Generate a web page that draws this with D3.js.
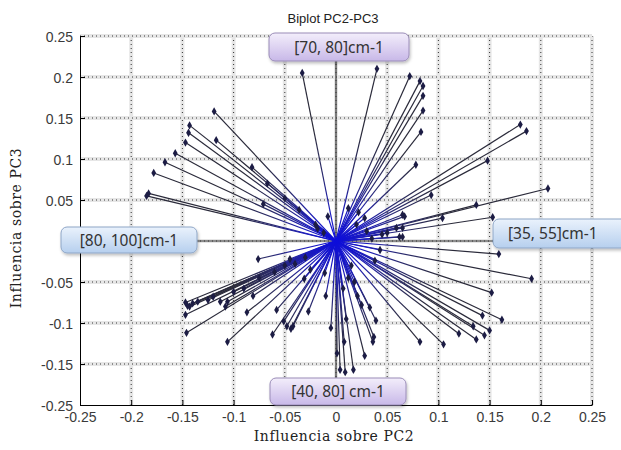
<!DOCTYPE html>
<html>
<head>
<meta charset="utf-8">
<script src="https://cdn.jsdelivr.net/npm/d3@7"></script>
<style>
    body { margin: 0; background: #fff; }
    svg { display: block; }
</style>
</head>
<body>
<svg id="chart" width="621" height="450"></svg>
<script>
'use strict';

// loadings on PC2 (x) and PC3 (y)
var pc2 = [
    -0.033, -0.119, -0.143, -0.144, -0.117, -0.147, -0.157, -0.167, -0.178, -0.183, -0.185,
    -0.082, -0.067, -0.050, -0.071, -0.036, -0.020, -0.012,
    0.040, 0.072, 0.082, 0.085, 0.085, 0.085, 0.083, 0.078, 0.180, 0.186, 0.148, 0.093,
    0.207, 0.137, 0.153, 0.104, 0.065, 0.067, 0.065, 0.062, 0.065, 0.059, 0.030, 0.045, 0.020, 0.035,
    -0.076, -0.147, -0.145, -0.143, -0.147, -0.146, -0.113, -0.106, -0.108, -0.081, -0.087, -0.106,
    -0.058, -0.062, -0.051, -0.048, -0.044, -0.042, -0.027, -0.010, -0.005, -0.031, -0.011,
    -0.140, -0.135, -0.125, -0.120, -0.100, -0.090, -0.075, -0.060, -0.050,
    0.159, 0.043, 0.191, 0.152, 0.143, 0.162, 0.134, 0.150, 0.145, 0.137, 0.120, 0.105, 0.082,
    0.039, 0.037, 0.036, 0.033, 0.028, 0.008, 0.017, 0.009, 0.004, 0.001, 0.025, 0.021, 0.038,
    0.007, 0.015, 0.012,
    -0.030, -0.025, -0.040, 0.028, 0.022, 0.012, -0.008, 0.018, -0.018, 0.050, -0.045, 0.010
];
var pc3 = [
    0.205, 0.158, 0.141, 0.132, 0.123, 0.120, 0.107, 0.096, 0.083, 0.058, 0.055,
    0.090, 0.070, 0.052, 0.045, 0.038, 0.020, 0.010,
    0.210, 0.201, 0.195, 0.189, 0.177, 0.159, 0.133, 0.093, 0.142, 0.134, 0.098, 0.056,
    0.064, 0.044, 0.029, 0.028, 0.032, 0.030, 0.016, 0.005, 0.005, 0.016, 0.012, 0.008, 0.020, 0.003,
    -0.022, -0.075, -0.079, -0.080, -0.090, -0.112, -0.074, -0.074, -0.080, -0.067, -0.087, -0.123,
    -0.084, -0.114, -0.098, -0.104, -0.107, -0.104, -0.086, -0.067, -0.106, -0.046, -0.039,
    -0.076, -0.074, -0.072, -0.068, -0.062, -0.058, -0.045, -0.038, -0.030,
    -0.016, -0.011, -0.046, -0.063, -0.091, -0.096, -0.104, -0.109, -0.115, -0.120, -0.113, -0.126, -0.123,
    -0.097, -0.117, -0.123, -0.081, -0.140, -0.123, -0.157, -0.160, -0.157, -0.137, -0.078, -0.067, -0.024,
    -0.058, -0.030, -0.045,
    -0.020, -0.035, -0.028, 0.028, 0.035, 0.040, 0.030, -0.050, 0.015, 0.010, -0.022, -0.095
];

var xTicks = [-0.25, -0.2, -0.15, -0.1, -0.05, 0, 0.05, 0.1, 0.15, 0.2, 0.25];
var xTickLabels = ['-0.25', '-0.2', '-0.15', '-0.1', '-0.05', '0', '0.05', '0.1', '0.15', '0.2', '0.25'];
var yTicks = [-0.2, -0.15, -0.1, -0.05, 0, 0.05, 0.1, 0.15, 0.2, 0.25];
var yTickLabels = ['-0.25', '-0.15', '-0.1', '-0.05', '', '0.05', '0.1', '0.15', '0.2', '0.25'];

// band labels placed at the ends of the axis lines
var bandNames = ['[70, 80]cm-1', '[35, 55]cm-1', '[40, 80] cm-1', '[80, 100]cm-1'];

var svg = d3.select('#chart');
var padL = 80, padR = 592, padT = 36, padB = 405;

var x = d3.scaleLinear().domain([-0.25, 0.25]).range([padL, padR]);
var y = d3.scaleLinear().domain([-0.2, 0.25]).range([padB, padT]);

var defs = svg.append('defs');

// lines look blue where they crowd around the origin
var rg = defs.append('radialGradient')
    .attr('id', 'vecGrad')
    .attr('gradientUnits', 'userSpaceOnUse')
    .attr('cx', x(0)).attr('cy', y(0)).attr('r', 110);
rg.append('stop').attr('offset', 0).attr('stop-color', '#0c0cdc');
rg.append('stop').attr('offset', 0.3).attr('stop-color', '#1c1cb8');
rg.append('stop').attr('offset', 0.6).attr('stop-color', '#2a2a70');
rg.append('stop').attr('offset', 1).attr('stop-color', '#2a2a3a');

function addLinear(id, c0, c1) {
    var g = defs.append('linearGradient').attr('id', id)
        .attr('x1', 0).attr('y1', 0).attr('x2', 0).attr('y2', 1);
    g.append('stop').attr('offset', 0).attr('stop-color', c0);
    g.append('stop').attr('offset', 1).attr('stop-color', c1);
}
addLinear('purpleGrad', '#f3eefb', '#c8b8e8');
addLinear('blueGrad', '#eaf2fc', '#b6cfee');

var shadow = defs.append('filter').attr('id', 'shadow')
    .attr('x', '-10%').attr('y', '-20%').attr('width', '130%').attr('height', '160%');
shadow.append('feDropShadow')
    .attr('dx', 1).attr('dy', 2).attr('stdDeviation', 1.5)
    .attr('flood-color', '#000').attr('flood-opacity', 0.25);

// grid
var grid = svg.append('g');
xTicks.forEach(function(t) {
    if(t === -0.25) return;
    grid.append('line')
        .attr('x1', x(t)).attr('x2', x(t)).attr('y1', padT).attr('y2', padB)
        .attr('stroke', '#e6e6e6').attr('stroke-width', 4);
    grid.append('line')
        .attr('x1', x(t)).attr('x2', x(t)).attr('y1', padT).attr('y2', padB)
        .attr('stroke', '#333').attr('stroke-width', 1).attr('stroke-dasharray', '1,3');
});
yTicks.forEach(function(t) {
    if(t === -0.2) return;
    grid.append('line')
        .attr('x1', padL).attr('x2', padR).attr('y1', y(t)).attr('y2', y(t))
        .attr('stroke', '#e6e6e6').attr('stroke-width', 4);
    grid.append('line')
        .attr('x1', padL).attr('x2', padR).attr('y1', y(t)).attr('y2', y(t))
        .attr('stroke', '#333').attr('stroke-width', 1).attr('stroke-dasharray', '1,3');
});

// axes
var xAxis = d3.axisBottom(x)
    .tickValues(xTicks)
    .tickSizeInner(-5).tickSizeOuter(0).tickPadding(7)
    .tickFormat(function(d, i) { return xTickLabels[i]; });
var gx = svg.append('g')
    .attr('transform', 'translate(0,' + padB + ')')
    .call(xAxis);

var yAxis = d3.axisLeft(y)
    .tickValues(yTicks)
    .tickSizeInner(-5).tickSizeOuter(0).tickPadding(7)
    .tickFormat(function(d, i) { return yTickLabels[i]; });
var gy = svg.append('g')
    .attr('transform', 'translate(' + padL + ',0)')
    .call(yAxis);

[gx, gy].forEach(function(g) {
    g.select('.domain').attr('stroke', '#000');
    g.selectAll('.tick line').attr('stroke', '#000');
    g.selectAll('.tick text')
        .attr('fill', '#3a3a3a')
        .style('font-family', 'Liberation Sans, Arial, sans-serif')
        .style('font-size', '14px');
});
gy.selectAll('.tick text').attr('dy', '0.36em');

// zero lines through the origin
svg.append('line')
    .attr('x1', x(0)).attr('x2', x(0)).attr('y1', 58).attr('y2', 382)
    .attr('stroke', '#333').attr('stroke-width', 1.2);
svg.append('line')
    .attr('x1', 190).attr('x2', 500).attr('y1', y(0)).attr('y2', y(0))
    .attr('stroke', '#333').attr('stroke-width', 1.2);

// vectors
var data = pc2.map(function(v, i) { return {x: v, y: pc3[i]}; });

svg.append('g').selectAll('line.vec')
    .data(data)
    .enter().append('line')
    .attr('class', 'vec')
    .attr('x1', x(0)).attr('y1', y(0))
    .attr('x2', function(d) { return x(d.x); })
    .attr('y2', function(d) { return y(d.y); })
    .attr('stroke', 'url(#vecGrad)')
    .attr('stroke-width', 1.2);

var sym = d3.symbol().type(d3.symbolDiamond).size(20);
svg.append('g').selectAll('path.pt')
    .data(data)
    .enter().append('path')
    .attr('class', 'pt')
    .attr('d', sym)
    .attr('transform', function(d) { return 'translate(' + x(d.x) + ',' + y(d.y) + ')'; })
    .attr('fill', '#1c1c44');

// band boxes
var boxes = [
    {x: 269, y: 33, w: 140, h: 28, fill: 'url(#purpleGrad)', stroke: '#9a8cb8'},
    {x: 493, y: 219, w: 140, h: 29, fill: 'url(#blueGrad)', stroke: '#8ea6c6'},
    {x: 270, y: 378, w: 136, h: 27, fill: 'url(#purpleGrad)', stroke: '#9a8cb8'},
    {x: 61, y: 227, w: 136, h: 26, fill: 'url(#blueGrad)', stroke: '#8ea6c6'}
];
var boxG = svg.append('g').selectAll('g.band')
    .data(boxes)
    .enter().append('g')
    .attr('class', 'band');
boxG.append('rect')
    .attr('x', function(d) { return d.x; })
    .attr('y', function(d) { return d.y; })
    .attr('width', function(d) { return d.w; })
    .attr('height', function(d) { return d.h; })
    .attr('rx', 6)
    .attr('fill', function(d) { return d.fill; })
    .attr('stroke', function(d) { return d.stroke; })
    .attr('filter', 'url(#shadow)');
boxG.append('text')
    .attr('x', function(d, i) { return i === 1 ? d.x + 15 : d.x + d.w / 2; })
    .attr('y', function(d) { return d.y + d.h / 2; })
    .attr('dy', '0.36em')
    .attr('text-anchor', function(d, i) { return i === 1 ? 'start' : 'middle'; })
    .attr('fill', '#333')
    .style('font-family', 'Noto Sans, Open Sans, sans-serif')
    .style('font-size', '15.5px')
    .text(function(d, i) { return bandNames[i]; });

// titles
svg.append('text')
    .attr('x', 333).attr('y', 23)
    .attr('text-anchor', 'middle')
    .style('font-family', 'Liberation Sans, Arial, sans-serif')
    .style('font-size', '13px')
    .attr('fill', '#222')
    .text('Biplot PC2-PC3');

svg.append('text')
    .attr('x', 334).attr('y', 441)
    .attr('text-anchor', 'middle')
    .style('font-family', 'DejaVu Serif, serif')
    .style('font-size', '14px')
    .style('letter-spacing', '0.6px')
    .attr('fill', '#222')
    .text('Influencia sobre PC2');

svg.append('text')
    .attr('transform', 'translate(21,' + 228 + ') rotate(-90)')
    .attr('text-anchor', 'middle')
    .style('font-family', 'DejaVu Serif, serif')
    .style('font-size', '14px')
    .style('letter-spacing', '0.6px')
    .attr('fill', '#222')
    .text('Influencia sobre PC3');
</script>
</body>
</html>
